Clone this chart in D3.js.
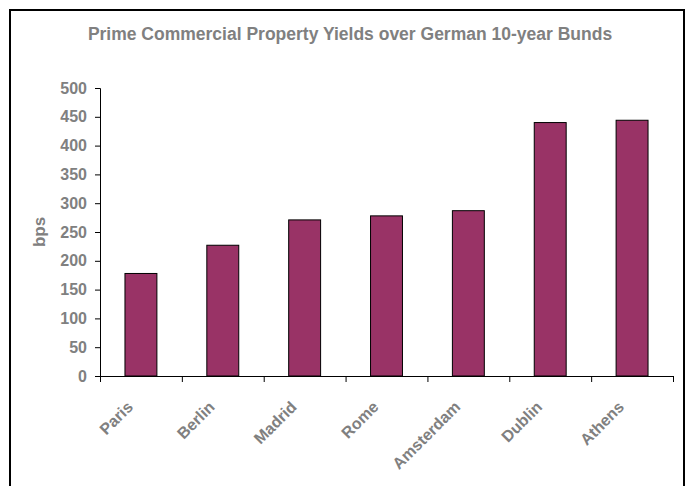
<!DOCTYPE html>
<html><head><meta charset="utf-8">
<script src="https://cdn.jsdelivr.net/npm/d3@7"></script>
<style>body{margin:0;background:#fff}svg{display:block}</style>
</head><body>
<script>
const categories = ["Paris","Berlin","Madrid","Rome","Amsterdam","Dublin","Athens"];
const values = [178, 227, 271, 278, 287, 440, 444];
const yTicks = [0,50,100,150,200,250,300,350,400,450,500];
const title = "Prime Commercial Property Yields over German 10-year Bunds";
const yLabel = "bps";

const W = 687, H = 486;
const svg = d3.select("body").append("svg").attr("width", W).attr("height", H);
svg.append("rect").attr("x",10).attr("y",10).attr("width",674).attr("height",490)
  .attr("fill","#fff").attr("stroke","#000").attr("stroke-width",2);

const x = d3.scaleBand().domain(categories).range([100, 673]).paddingInner(0.61).paddingOuter(0.305);
const y = d3.scaleLinear().domain([0, 500]).range([376, 88]);
const font = "'Liberation Sans', Arial, sans-serif";
const grey = "#808080";

svg.append("text").attr("x", 350).attr("y", 40).attr("text-anchor","middle")
  .attr("font-family", font).attr("font-weight","bold").attr("font-size",17.5).attr("fill",grey).text(title);

svg.selectAll(".bar").data(values).join("rect")
  .attr("x",(d,i)=>x(categories[i])).attr("width",x.bandwidth())
  .attr("y",d=>y(d)).attr("height",d=>y(0)-y(d))
  .attr("fill","#993366").attr("stroke","#000").attr("stroke-width",1);

const yAxis = svg.append("g").attr("transform","translate(100,0)")
  .call(d3.axisLeft(y).tickValues(yTicks).tickSize(5).tickPadding(8));
yAxis.select(".domain").attr("stroke","#000");
yAxis.selectAll("text").attr("font-family",font).attr("font-weight","bold").attr("font-size",16).attr("fill",grey);

// x axis with ticks at band boundaries
const xg = svg.append("g");
xg.append("line").attr("x1",100).attr("x2",673).attr("y1",376.5).attr("y2",376.5).attr("stroke","#000");
const step = x.step();
xg.selectAll(".tk").data(d3.range(categories.length+1)).join("line")
  .attr("x1",i=>100.5 + i*step).attr("x2",i=>100.5 + i*step)
  .attr("y1",376).attr("y2",382).attr("stroke","#000");
xg.selectAll(".lbl").data(categories).join("text")
  .attr("transform",d=>`translate(${x(d)+x.bandwidth()/2-7},${408}) rotate(-45)`)
  .attr("text-anchor","end")
  .attr("font-family",font).attr("font-weight","bold").attr("font-size",16).attr("fill",grey).text(d=>d);

svg.append("text").attr("transform","translate(45,232) rotate(-90)").attr("text-anchor","middle")
  .attr("font-family",font).attr("font-weight","bold").attr("font-size",17).attr("fill",grey).text(yLabel);
</script>
</body></html>
